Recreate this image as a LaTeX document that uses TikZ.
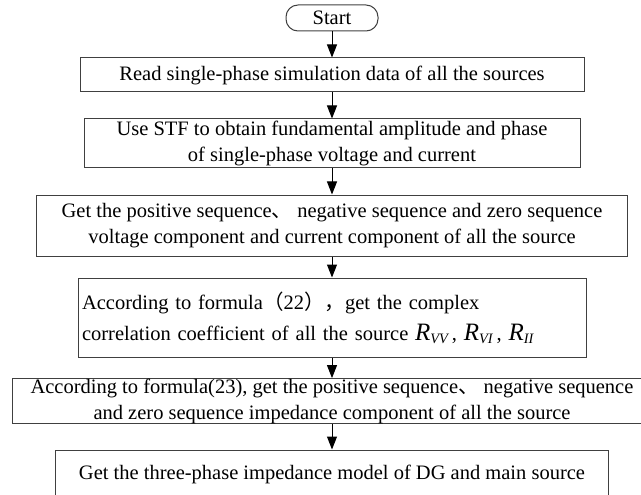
\documentclass[tikz,border=0pt]{standalone}
\usepackage{fontspec}
\setmainfont{Liberation Serif}
\newfontfamily\cjk{Noto Sans CJK SC}
\usepackage{tikz}
\usetikzlibrary{arrows.meta}
\newcommand{\coefR}[1]{{\fontsize{25}{25}\selectfont\itshape R}\textsubscript{\itshape #1}}

\begin{document}
\begin{tikzpicture}[x=1pt,y=-1pt,
  every node/.style={font=\fontsize{20.5}{26}\selectfont},
  stepbox/.style={draw=black!75,line width=1pt,inner sep=0pt,align=center},
  flow/.style={-{Triangle[length=13pt,width=10pt]},line width=1pt}]
  \useasboundingbox (0,0) rectangle (641,495);
  \node[draw=black!75,line width=1pt,rounded corners=12pt,minimum width=92pt,minimum height=26pt,inner sep=0pt] (start) at (332,18) {Start};
  \node[stepbox,minimum width=504pt,minimum height=34pt] (read) at (332,75) {Read single-phase simulation data of all the sources};
  \node[stepbox,minimum width=496pt,minimum height=49pt] (stf) at (332,143.5) {Use STF to obtain fundamental amplitude and phase\\of single-phase voltage and current};
  \node[stepbox,minimum width=591pt,minimum height=61pt] (seq) at (332,225.5) {Get the positive sequence{\cjk 、} negative sequence and zero sequence\\voltage component and current component of all the source};
  \node[stepbox,text width=500pt,align=left,inner xsep=4pt,minimum height=79pt] (corr) at (332,317.5) {According to formula{\cjk （}22{\cjk ）}{\cjk ，}get the complex\\[5pt]correlation coefficient of all the source \coefR{VV}\,, \coefR{VI}\,, \coefR{II}};
  \node[stepbox,minimum width=640pt,minimum height=44pt] (impz) at (332,401) {According to formula(23), get the positive sequence{\cjk 、} negative sequence\\and zero sequence impedance component of all the source};
  \node[stepbox,minimum width=553pt,minimum height=70pt] (model) at (332,485) {Get the three-phase impedance model of DG and main source\\\mbox{}};
  \draw[flow] (start) -- (read);
  \draw[flow] (read) -- (stf);
  \draw[flow] (stf) -- (seq);
  \draw[flow] (seq) -- (corr);
  \draw[flow] (corr) -- (impz);
  \draw[flow] (impz) -- (model);
\end{tikzpicture}
\end{document}
